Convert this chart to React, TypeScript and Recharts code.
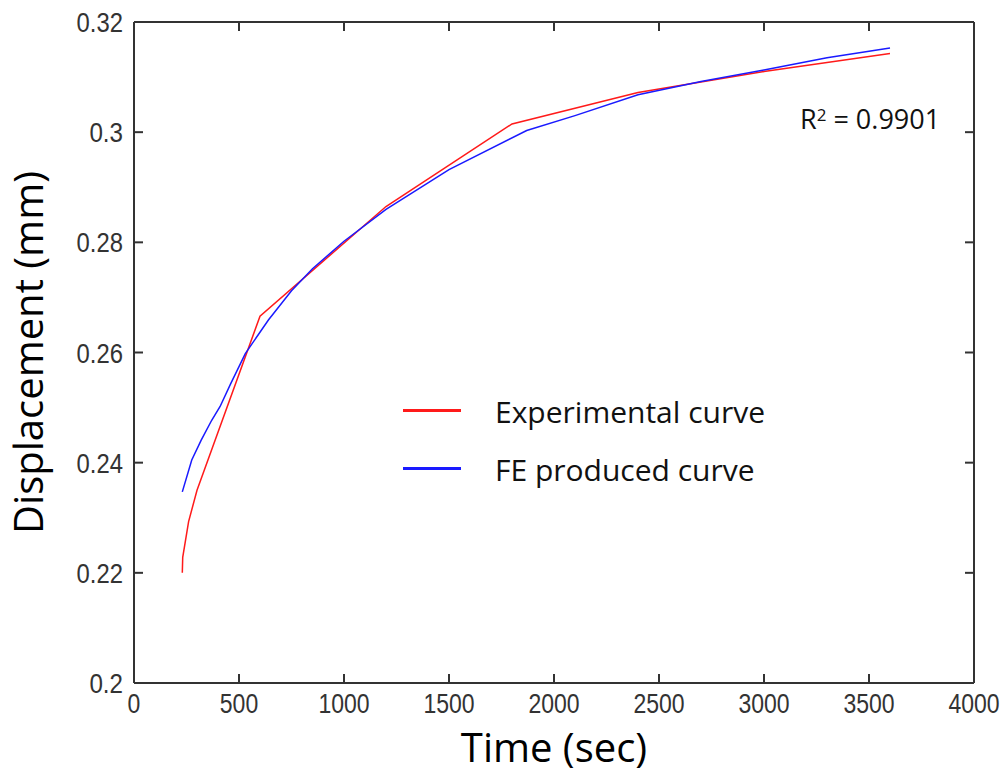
import React from 'react';
import {
  LineChart,
  Line,
  XAxis,
  YAxis,
  Legend,
} from 'recharts';

// experimental measurements (time s, displacement mm)
const expTime = [230, 232, 260, 300, 600, 1200, 1800, 2400, 3000, 3600];
const expDisp = [0.22, 0.2228, 0.2293, 0.235, 0.2666, 0.2865, 0.3015, 0.3072, 0.311, 0.3143];

// finite element output
const feTime = [230, 275, 320, 370, 410, 460, 530, 640, 750, 850, 1000, 1200, 1500, 1870, 2100, 2400, 2700, 3000, 3300, 3600];
const feDisp = [0.2347, 0.2405, 0.2441, 0.2477, 0.2502, 0.2543, 0.2598, 0.2659, 0.2712, 0.2752, 0.2802, 0.286, 0.2932, 0.3003, 0.303, 0.3068, 0.3092, 0.3113, 0.3135, 0.3153];

const xTicks = [0, 500, 1000, 1500, 2000, 2500, 3000, 3500, 4000];
const yTicks = [0.2, 0.22, 0.24, 0.26, 0.28, 0.3, 0.32];

const seriesNames = ['Experimental curve', 'FE produced curve'];
const colors = ['#ff1a1a', '#1a1aff'];

const expData = expTime.map((t, i) => ({ t, d: expDisp[i] }));
const feData = feTime.map((t, i) => ({ t, d: feDisp[i] }));

// plot frame (matlab style box with inward ticks)
const W = 1004;
const H = 776;
const PLOT_LEFT = 134;
const PLOT_TOP = 22;
const PLOT_RIGHT = 974;
const PLOT_BOTTOM = 683;
const TICK = 9;

const axisColor = '#333';
const tickFont = "'Liberation Sans Narrow', 'Liberation Sans', 'DejaVu Sans Condensed', sans-serif";
const textFont = "'Open Sans', 'Noto Sans', sans-serif";

const fmt = (v: number) => String(Number(v.toFixed(2)));
// squeeze labels to the narrow look of the original
const labelWidth = (s: string) => s.split('').reduce((w, c) => w + (c === '.' ? 8 : 12.8), 0);

const TickText = ({ x, y, anchor, text }: { x: number; y: number; anchor: string; text: string }) => (
  <text
    x={x}
    y={y}
    textAnchor={anchor}
    fill="#333"
    fontSize={28}
    fontFamily={tickFont}
    textLength={labelWidth(text)}
    lengthAdjust="spacingAndGlyphs"
  >
    {text}
  </text>
);

const BottomTick = (props: any) => {
  const { x, payload } = props;
  return <TickText x={x} y={PLOT_BOTTOM + 30} anchor="middle" text={fmt(payload.value)} />;
};

const LeftTick = (props: any) => {
  const { y, payload } = props;
  return <TickText x={PLOT_LEFT - 11} y={y + 10} anchor="end" text={fmt(payload.value)} />;
};

// mirrored box sides: tick marks only, no labels
const NoLabel = () => <g />;

const tickLineStyle = { stroke: axisColor, strokeWidth: 2 };

const LegendBox = () => (
  <div style={{ fontFamily: textFont }}>
    {seriesNames.map((name, i) => (
      <div key={name} style={{ display: 'flex', alignItems: 'center', height: 58 }}>
        <div style={{ width: 58, height: 3, background: colors[i], marginRight: 34 }} />
        <span style={{ fontSize: 30, color: '#111', lineHeight: '30px', marginTop: 4 }}>{name}</span>
      </div>
    ))}
  </div>
);

const App: React.FC = () => {
  return (
    <div style={{ position: 'absolute', left: 0, top: 0, width: W, height: H, background: '#fff' }}>
      <LineChart
        width={W}
        height={H}
        margin={{ top: PLOT_TOP - 1, right: W - PLOT_RIGHT - 1, left: 0, bottom: 0 }}
      >
        <XAxis
          dataKey="t"
          type="number"
          domain={[0, 4000]}
          ticks={xTicks}
          allowDuplicatedCategory={false}
          height={H - PLOT_BOTTOM}
          stroke={axisColor}
          strokeWidth={2}
          tickSize={-TICK}
          tickLine={tickLineStyle}
          tick={<BottomTick />}
          label={{ value: 'Time (sec)', position: 'insideBottom', offset: 14, fill: '#000', fontSize: 40, fontFamily: textFont }}
        />
        <XAxis
          xAxisId="top"
          dataKey="t"
          type="number"
          orientation="top"
          domain={[0, 4000]}
          allowDataOverflow
          ticks={xTicks}
          height={1}
          stroke={axisColor}
          strokeWidth={2}
          tickSize={-TICK}
          tickLine={tickLineStyle}
          tick={<NoLabel />}
        />
        <YAxis
          type="number"
          domain={[0.2, 0.32]}
          ticks={yTicks}
          width={PLOT_LEFT}
          stroke={axisColor}
          strokeWidth={2}
          tickSize={-TICK}
          tickLine={tickLineStyle}
          tick={<LeftTick />}
          label={{ value: 'Displacement (mm)', angle: -90, position: 'insideLeft', offset: 29, fill: '#000', fontSize: 40, fontFamily: textFont, style: { textAnchor: 'middle' } }}
        />
        <YAxis
          yAxisId="right"
          type="number"
          orientation="right"
          domain={[0.2, 0.32]}
          allowDataOverflow
          ticks={yTicks}
          width={1}
          stroke={axisColor}
          strokeWidth={2}
          tickSize={-TICK}
          tickLine={tickLineStyle}
          tick={<NoLabel />}
        />
        <Legend
          layout="vertical"
          align="center"
          verticalAlign="middle"
          content={<LegendBox />}
          wrapperStyle={{ position: 'absolute', left: 403, top: 381, width: 420, height: 120 }}
        />
        <Line
          data={expData}
          dataKey="d"
          name={seriesNames[0]}
          type="linear"
          stroke={colors[0]}
          strokeWidth={1.5}
          dot={false}
          isAnimationActive={false}
        />
        {/* same domains on both box sides, so the FE curve can sit on the mirrored axes */}
        <Line
          data={feData}
          dataKey="d"
          xAxisId="top"
          yAxisId="right"
          name={seriesNames[1]}
          type="linear"
          stroke={colors[1]}
          strokeWidth={1.5}
          dot={false}
          isAnimationActive={false}
        />
      </LineChart>
      <div style={{ position: 'absolute', left: 800, top: 101, fontFamily: textFont, fontSize: 27, color: '#111', lineHeight: '36px' }}>
        R<sup style={{ fontSize: 17, verticalAlign: '8px', lineHeight: 0 }}>2</sup> = 0.9901
      </div>
    </div>
  );
};

export default App;
